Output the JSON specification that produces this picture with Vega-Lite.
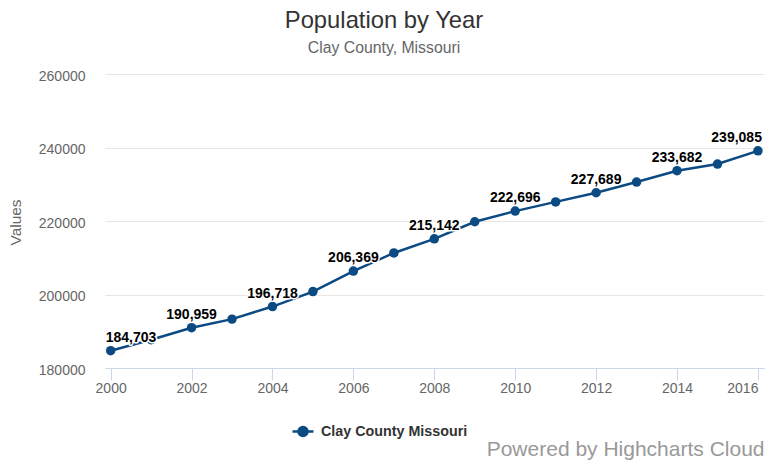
{
  "$schema": "https://vega.github.io/schema/vega-lite/v6.json",
  "width": 659,
  "height": 294,
  "autosize": {"type": "none"},
  "padding": {"left": 105, "top": 74, "right": 2, "bottom": 95},
  "background": "white",
  "config": {
    "font": "Liberation Sans",
    "view": {"stroke": null}
  },
  "title": {
    "text": "Population by Year",
    "subtitle": "Clay County, Missouri",
    "anchor": "middle",
    "frame": "group",
    "dx": -50.5,
    "offset": 13,
    "fontSize": 23.8,
    "fontWeight": "normal",
    "color": "#333333",
    "subtitleFontSize": 15.8,
    "subtitleColor": "#666666",
    "subtitlePadding": 8
  },
  "data": {
    "values": [
      {"year": 2000, "population": 184703, "series": "Clay County Missouri"},
      {"year": 2001, "population": 187700, "series": "Clay County Missouri"},
      {"year": 2002, "population": 190959, "series": "Clay County Missouri"},
      {"year": 2003, "population": 193300, "series": "Clay County Missouri"},
      {"year": 2004, "population": 196718, "series": "Clay County Missouri"},
      {"year": 2005, "population": 200800, "series": "Clay County Missouri"},
      {"year": 2006, "population": 206369, "series": "Clay County Missouri"},
      {"year": 2007, "population": 211300, "series": "Clay County Missouri"},
      {"year": 2008, "population": 215142, "series": "Clay County Missouri"},
      {"year": 2009, "population": 219800, "series": "Clay County Missouri"},
      {"year": 2010, "population": 222696, "series": "Clay County Missouri"},
      {"year": 2011, "population": 225200, "series": "Clay County Missouri"},
      {"year": 2012, "population": 227689, "series": "Clay County Missouri"},
      {"year": 2013, "population": 230600, "series": "Clay County Missouri"},
      {"year": 2014, "population": 233682, "series": "Clay County Missouri"},
      {"year": 2015, "population": 235500, "series": "Clay County Missouri"},
      {"year": 2016, "population": 239085, "series": "Clay County Missouri"}
    ]
  },
  "encoding": {
    "x": {
      "field": "year",
      "type": "quantitative",
      "scale": {"domain": [1999.86, 2016.15], "nice": false, "zero": false},
      "axis": {
        "values": [2000, 2002, 2004, 2006, 2008, 2010, 2012, 2014, 2016],
        "format": "d",
        "grid": false,
        "domainColor": "#ccd6eb",
        "tickColor": "#ccd6eb",
        "tickSize": 12,
        "labelPadding": 8,
        "labelBaseline": "middle",
        "labelFontSize": 14,
        "labelColor": "#666666",
        "labelFlush": false,
        "labelAlign": {"expr": "datum.value == 2016 ? 'right' : 'center'"},
        "labelDx": {"expr": "datum.value == 2016 ? 5 : 0"},
        "title": "Powered by Highcharts Cloud",
        "titleFontSize": 21,
        "titleFontWeight": "normal",
        "titleColor": "#999999",
        "titleX": 659,
        "titleY": 81,
        "titleAlign": "right",
        "titleBaseline": "middle",
        "titleAnchor": "end"
      }
    },
    "y": {
      "field": "population",
      "type": "quantitative",
      "scale": {"domain": [180000, 260000], "nice": false, "zero": false},
      "axis": {
        "values": [180000, 200000, 220000, 240000, 260000],
        "format": "d",
        "domain": false,
        "ticks": false,
        "gridColor": "#e6e6e6",
        "labelPadding": 20,
        "labelFontSize": 14,
        "labelColor": "#666666",
        "labelOffset": 2,
        "title": "Values",
        "titleFontSize": 15.4,
        "titleFontWeight": "normal",
        "titleColor": "#666666",
        "titleX": -90,
        "titleY": 148,
        "titleAngle": -90,
        "titleAlign": "center",
        "titleBaseline": "middle"
      }
    },
    "color": {
      "field": "series",
      "type": "nominal",
      "scale": {"domain": ["Clay County Missouri"], "range": ["#0b4a82"]},
      "legend": {
        "title": null,
        "orient": "none",
        "legendX": 186,
        "legendY": 345.5,
        "padding": 0,
        "symbolType": "M-1,0H1M-0.43,0A0.43,0.43 0 1,0 0.43,0A0.43,0.43 0 1,0 -0.43,0Z",
        "symbolSize": 441,
        "symbolStrokeWidth": 2.5,
        "symbolFillColor": "#0b4a82",
        "symbolStrokeColor": "#0b4a82",
        "labelFontSize": 14.3,
        "labelFontWeight": "bold",
        "labelColor": "#333333",
        "labelOffset": 6,
        "labelBaseline": "middle",
        "encode": {
          "symbols": {
            "update": {
              "stroke": {"value": "#0b4a82"},
              "fill": {"value": "#0b4a82"},
              "strokeWidth": {"value": 2.5},
              "opacity": {"value": 1}
            }
          }
        }
      }
    }
  },
  "layer": [
    {
      "mark": {"type": "line", "strokeWidth": 2.5}
    },
    {
      "mark": {"type": "point", "filled": true, "size": 90, "opacity": 1, "shape": "circle"}
    },
    {
      "transform": [{"filter": "datum.year % 2 == 0"}],
      "mark": {
        "type": "text",
        "fontSize": 14,
        "fontWeight": "bold",
        "baseline": "alphabetic",
        "dy": -9,
        "fill": "white",
        "stroke": "white",
        "strokeWidth": 3,
        "strokeJoin": "round",
        "align": {"expr": "datum.year == 2000 ? 'left' : datum.year == 2016 ? 'right' : 'center'"},
        "dx": {"expr": "datum.year == 2000 ? -5 : datum.year == 2016 ? 4 : 0"}
      },
      "encoding": {
        "text": {"field": "population", "type": "quantitative", "format": ","},
        "color": {"value": "white"}
      }
    },
    {
      "transform": [{"filter": "datum.year % 2 == 0"}],
      "mark": {
        "type": "text",
        "fontSize": 14,
        "fontWeight": "bold",
        "baseline": "alphabetic",
        "dy": -9,
        "fill": "#000000",
        "align": {"expr": "datum.year == 2000 ? 'left' : datum.year == 2016 ? 'right' : 'center'"},
        "dx": {"expr": "datum.year == 2000 ? -5 : datum.year == 2016 ? 4 : 0"}
      },
      "encoding": {
        "text": {"field": "population", "type": "quantitative", "format": ","},
        "color": {"value": "#000000"}
      }
    }
  ]
}
